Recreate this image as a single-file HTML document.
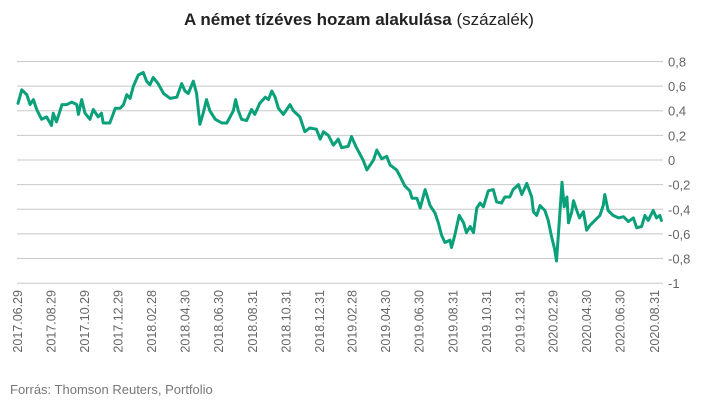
<!DOCTYPE html>
<html><head><meta charset="utf-8">
<style>
body{margin:0;background:#fff;width:718px;height:415px;overflow:hidden;font-family:"Liberation Sans",sans-serif;}
#title{position:absolute;left:0;top:10px;width:718px;text-align:center;font-size:17px;color:#222;}
#title b{font-weight:bold;}
#src{position:absolute;left:10px;top:382px;font-size:13px;color:#777;}
svg{position:absolute;left:0;top:0;}
</style></head><body>
<div id="title"><b>A német tízéves hozam alakulása</b> (százalék)</div>
<svg id="chart" width="718" height="415"></svg>
<div id="src">Forrás: Thomson Reuters, Portfolio</div>
<script>
const days = [0,7,16,22,28,34,43,52,61,64,70,80,89,98,107,110,116,122,131,137,146,152,155,167,177,186,192,198,204,210,219,228,234,240,246,255,265,277,289,298,304,310,319,325,331,337,343,349,359,371,380,386,392,396,401,407,416,425,431,440,450,456,462,468,474,483,489,495,501,513,522,531,543,550,556,565,574,583,589,601,607,616,628,635,647,653,662,671,677,689,695,704,713,717,726,732,741,750,759,765,771,777,786,789,795,803,811,816,823,829,835,841,847,856,865,871,880,886,895,901,911,917,926,935,938,944,950,959,965,971,977,980,985,990,994,999,1002,1008,1011,1017,1022,1029,1035,1041,1050,1059,1065,1068,1074,1083,1093,1102,1111,1120,1126,1135,1141,1147,1156,1162,1168,1171];
const yields = [0.46,0.57,0.53,0.45,0.49,0.41,0.33,0.35,0.28,0.38,0.31,0.45,0.45,0.47,0.45,0.37,0.49,0.38,0.33,0.41,0.35,0.38,0.30,0.30,0.42,0.42,0.45,0.53,0.50,0.60,0.69,0.71,0.64,0.61,0.67,0.62,0.54,0.50,0.51,0.62,0.56,0.54,0.64,0.54,0.29,0.38,0.49,0.40,0.33,0.30,0.30,0.35,0.40,0.49,0.40,0.33,0.32,0.41,0.37,0.46,0.51,0.49,0.56,0.51,0.42,0.37,0.41,0.45,0.40,0.35,0.23,0.26,0.25,0.17,0.23,0.20,0.12,0.17,0.10,0.11,0.19,0.10,0.0,-0.08,0.0,0.08,0.01,0.03,-0.04,-0.08,-0.13,-0.21,-0.25,-0.31,-0.31,-0.39,-0.24,-0.37,-0.43,-0.51,-0.61,-0.67,-0.65,-0.71,-0.61,-0.45,-0.51,-0.59,-0.54,-0.59,-0.39,-0.35,-0.38,-0.25,-0.24,-0.34,-0.35,-0.30,-0.30,-0.24,-0.20,-0.28,-0.19,-0.30,-0.42,-0.45,-0.37,-0.41,-0.49,-0.62,-0.73,-0.82,-0.51,-0.18,-0.38,-0.30,-0.51,-0.42,-0.33,-0.41,-0.47,-0.42,-0.57,-0.53,-0.49,-0.45,-0.37,-0.28,-0.41,-0.45,-0.47,-0.46,-0.50,-0.47,-0.55,-0.54,-0.45,-0.49,-0.41,-0.47,-0.45,-0.49];
const yTicks = [0.8,0.6,0.4,0.2,0,-0.2,-0.4,-0.6,-0.8,-1];
const xTickLabels = ["2017.06.29","2017.08.29","2017.10.29","2017.12.29","2018.02.28","2018.04.30","2018.06.30","2018.08.31","2018.10.31","2018.12.31","2019.02.28","2019.04.30","2019.06.30","2019.08.31","2019.10.31","2019.12.31","2020.02.29","2020.04.30","2020.06.30","2020.08.31"];

const NS="http://www.w3.org/2000/svg";
const svg=document.getElementById('chart');
const X0=18, DAYS_PER_PX=1.82, PX0=160, PX_PER_UNIT=123.2;
const xs=d=>X0+d/DAYS_PER_PX;
const ys=v=>PX0-v*PX_PER_UNIT;
const start=Date.UTC(2017,5,29);
function mk(tag,attrs){const e=document.createElementNS(NS,tag);for(const k in attrs)e.setAttribute(k,attrs[k]);svg.appendChild(e);return e;}

yTicks.forEach(t=>{
  const g=mk('line',{x1:17,x2:663,y1:ys(t),y2:ys(t),stroke:'#c8c8c8','stroke-width':1});
  
  
  const tx=mk('text',{x:668,y:ys(t)+5,'font-size':13,fill:'#666','font-family':'Liberation Sans, sans-serif'});
  tx.textContent=String(t).replace('.',',');
  
  
});

xTickLabels.forEach(s=>{
  const p=s.split('.');
  const d=(Date.UTC(+p[0],+p[1]-1,+p[2])-start)/86400000;
  const x=xs(d)+4;
  const tx=mk('text',{x:0,y:0,'font-size':12.5,fill:'#666','text-anchor':'end','font-family':'Liberation Sans, sans-serif',transform:`translate(${x},290) rotate(-90)`});
  tx.textContent=s;
  
  
});

const pts=days.map((d,i)=>xs(d).toFixed(1)+','+ys(yields[i]).toFixed(1)).join(' ');
const line=mk('polyline',{points:pts,fill:'none',stroke:'#0aa07a','stroke-width':3,'stroke-linejoin':'round','stroke-linecap':'round'});


</script>
</body></html>
